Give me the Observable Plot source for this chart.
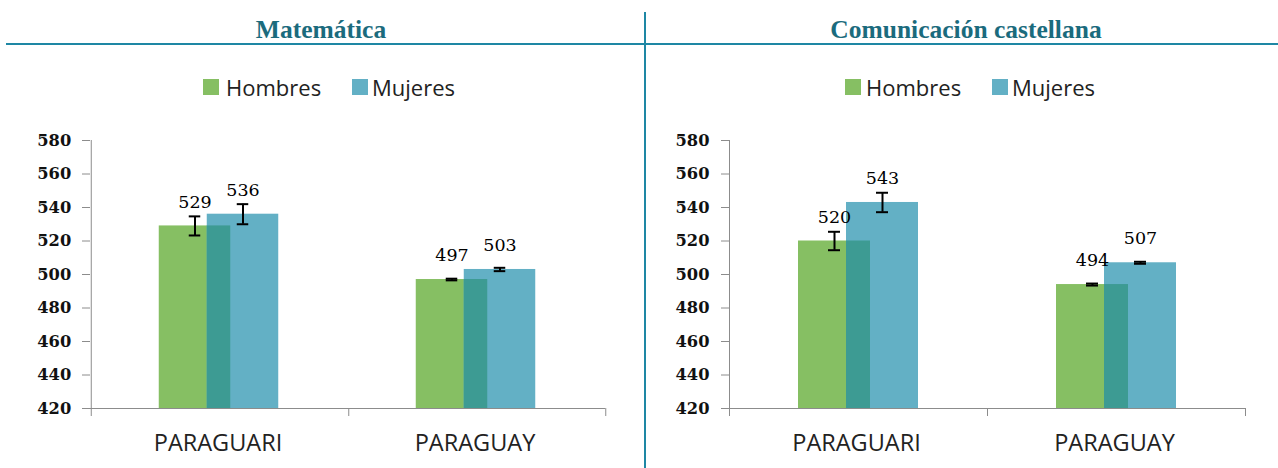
<!DOCTYPE html>
<html>
<head>
<meta charset="utf-8">
<script src="https://cdn.jsdelivr.net/npm/d3@7"></script>
<script src="https://cdn.jsdelivr.net/npm/@observablehq/plot@0.6"></script>
<style>
  html, body { margin: 0; padding: 0; background: #fff; }
  #wrap { position: relative; width: 1278px; height: 468px; overflow: hidden; background: #fff; }
  .title { position: absolute; top: 16.8px; font-family: "Liberation Serif", serif; font-weight: bold; font-size: 25.5px; line-height: 1; color: #1b6b7d; white-space: nowrap; transform: translateX(-50%); }
  .hline { position: absolute; left: 6px; right: 0; top: 43px; height: 2px; background: #1e87a4; }
  .vline { position: absolute; left: 644px; width: 2px; top: 12px; bottom: 0; background: #1e87a4; }
  .sw { position: absolute; top: 79px; width: 16px; height: 16px; }
  .lt { position: absolute; top: 75.8px; font-family: "Open Sans", sans-serif; font-size: 22px; line-height: 1; color: #222; white-space: nowrap; }
  .panel { position: absolute; top: 120px; }
</style>
</head>
<body>
<div id="wrap">
  <div class="vline"></div>
  <div class="hline"></div>
</div>
<script>
// ---- data ----
const regions = ["PARAGUARI", "PARAGUAY"];
const subjects = ["Matemática", "Comunicación castellana"];
const seriesNames = ["Hombres", "Mujeres"];
const matHombres = [529, 497];
const matMujeres = [536, 503];
const matHombresErr = [5.7, 0.5];
const matMujeresErr = [6, 1];
const comHombres = [520, 494];
const comMujeres = [543, 507];
const comHombresErr = [5.5, 0.6];
const comMujeresErr = [5.8, 0.6];
const yTicks = [420, 440, 460, 480, 500, 520, 540, 560, 580];

// ---- styles ----
const GREEN = "#86bf63", BLUE = "#63b0c5", OVERLAP = "#3d9b93";
const wrap = document.getElementById("wrap");

function addTitle(text, cx) {
  const d = document.createElement("div");
  d.className = "title"; d.textContent = text; d.style.left = cx + "px";
  wrap.appendChild(d);
}
function addLegend(items) {
  items.forEach(it => {
    const s = document.createElement("div");
    s.className = "sw"; s.style.left = it.sx + "px"; s.style.background = it.color;
    wrap.appendChild(s);
    const t = document.createElement("div");
    t.className = "lt"; t.style.left = it.tx + "px"; t.textContent = it.name;
    wrap.appendChild(t);
  });
}

function panel(h, m, he, me, opt) {
  const rows = regions.map((r, i) => ({region: r, h: h[i], m: m[i], he: he[i], me: me[i]}));
  const {width, marginLeft, marginRight} = opt;
  const height = 348, marginTop = 20, marginBottom = 60;
  const bw = (width - marginLeft - marginRight) / regions.length;
  const barW = 72, off = 24, capW = 12, ovW = 24;
  const inBar = (bw - barW) / 2, inCap = (bw - capW) / 2, inOv = (bw - ovW) / 2;
  const pxPerUnit = (height - marginTop - marginBottom) / (yTicks[yTicks.length - 1] - yTicks[0]);
  const tickLen = 8 / pxPerUnit;
  const base = yTicks[0], top = yTicks[yTicks.length - 1];
  const sh = opt.shift || 0;
  return Plot.plot({
    width, height, marginTop, marginBottom, marginLeft, marginRight,
    style: {background: "transparent", overflow: "visible", color: "#8c8c8c",
            fontFamily: "DejaVu Serif", fontSize: "15px"},
    x: {domain: regions, padding: 0, axis: null},
    y: {domain: [base, top], ticks: yTicks, tickSize: 8, tickFormat: () => "", label: null},
    marks: [
      Plot.barY(rows, {x: "region", y1: base, y2: "h", fill: GREEN, dx: -off + sh, insetLeft: inBar, insetRight: inBar}),
      Plot.barY(rows, {x: "region", y1: base, y2: "m", fill: BLUE, dx: off + sh, insetLeft: inBar, insetRight: inBar}),
      Plot.barY(rows, {x: "region", y1: base, y2: d => Math.min(d.h, d.m), fill: OVERLAP, dx: sh, insetLeft: inOv, insetRight: inOv}),
      // axes
      Plot.ruleY([base], {stroke: "#8c8c8c", strokeWidth: 1}),
      Plot.ruleX([regions[0]], {x: d => d, dx: -bw / 2, y1: base - tickLen, y2: top, stroke: "#8c8c8c"}),
      Plot.ruleX(regions, {x: d => d, dx: bw / 2, y1: base - tickLen, y2: base, stroke: "#8c8c8c"}),
      Plot.text(yTicks, {x: () => regions[0], y: d => d, text: d => String(d), dx: -bw / 2 - 20, textAnchor: "end",
        fontFamily: "DejaVu Serif", fontWeight: "bold", fontSize: 16.3, fill: "#111"}),
      Plot.text(regions, {x: d => d, y: base, text: d => d, dy: 35, dx: -2,
        fontFamily: "Open Sans", fontSize: 23.5, fill: "#222"}),
      // error bars
      Plot.ruleX(rows, {x: "region", y1: d => d.h - d.he, y2: d => d.h + d.he, dx: -off + sh, stroke: "#000", strokeWidth: 2}),
      Plot.tickY(rows, {x: "region", y: d => d.h - d.he, dx: -off + sh, insetLeft: inCap, insetRight: inCap, stroke: "#000", strokeWidth: 2}),
      Plot.tickY(rows, {x: "region", y: d => d.h + d.he, dx: -off + sh, insetLeft: inCap, insetRight: inCap, stroke: "#000", strokeWidth: 2}),
      Plot.ruleX(rows, {x: "region", y1: d => d.m - d.me, y2: d => d.m + d.me, dx: off + sh, stroke: "#000", strokeWidth: 2}),
      Plot.tickY(rows, {x: "region", y: d => d.m - d.me, dx: off + sh, insetLeft: inCap, insetRight: inCap, stroke: "#000", strokeWidth: 2}),
      Plot.tickY(rows, {x: "region", y: d => d.m + d.me, dx: off + sh, insetLeft: inCap, insetRight: inCap, stroke: "#000", strokeWidth: 2}),
      // value labels
      Plot.text(rows, {x: "region", y: "h", text: d => String(d.h), dx: -off + sh, dy: -24,
        fontFamily: "DejaVu Serif", fontSize: 17.5, fill: "#000"}),
      Plot.text(rows, {x: "region", y: "m", text: d => String(d.m), dx: off + sh, dy: -24,
        fontFamily: "DejaVu Serif", fontSize: 17.5, fill: "#000"})
    ]
  });
}

addTitle(subjects[0], 321);
addTitle(subjects[1], 966);
addLegend([
  {sx: 203, tx: 226, color: GREEN, name: seriesNames[0]},
  {sx: 352, tx: 372, color: BLUE, name: seriesNames[1]},
  {sx: 845, tx: 866, color: GREEN, name: seriesNames[0]},
  {sx: 992, tx: 1012, color: BLUE, name: seriesNames[1]}
]);

const p1 = panel(matHombres, matMujeres, matHombresErr, matMujeresErr, {width: 640, marginLeft: 90, marginRight: 35, shift: -1});
p1.classList.add("panel"); p1.style.left = "0px";
wrap.appendChild(p1);
const p2 = panel(comHombres, comMujeres, comHombresErr, comMujeresErr, {width: 638, marginLeft: 89, marginRight: 33, shift: 0});
p2.classList.add("panel"); p2.style.left = "640px";
wrap.appendChild(p2);
</script>
</body>
</html>
